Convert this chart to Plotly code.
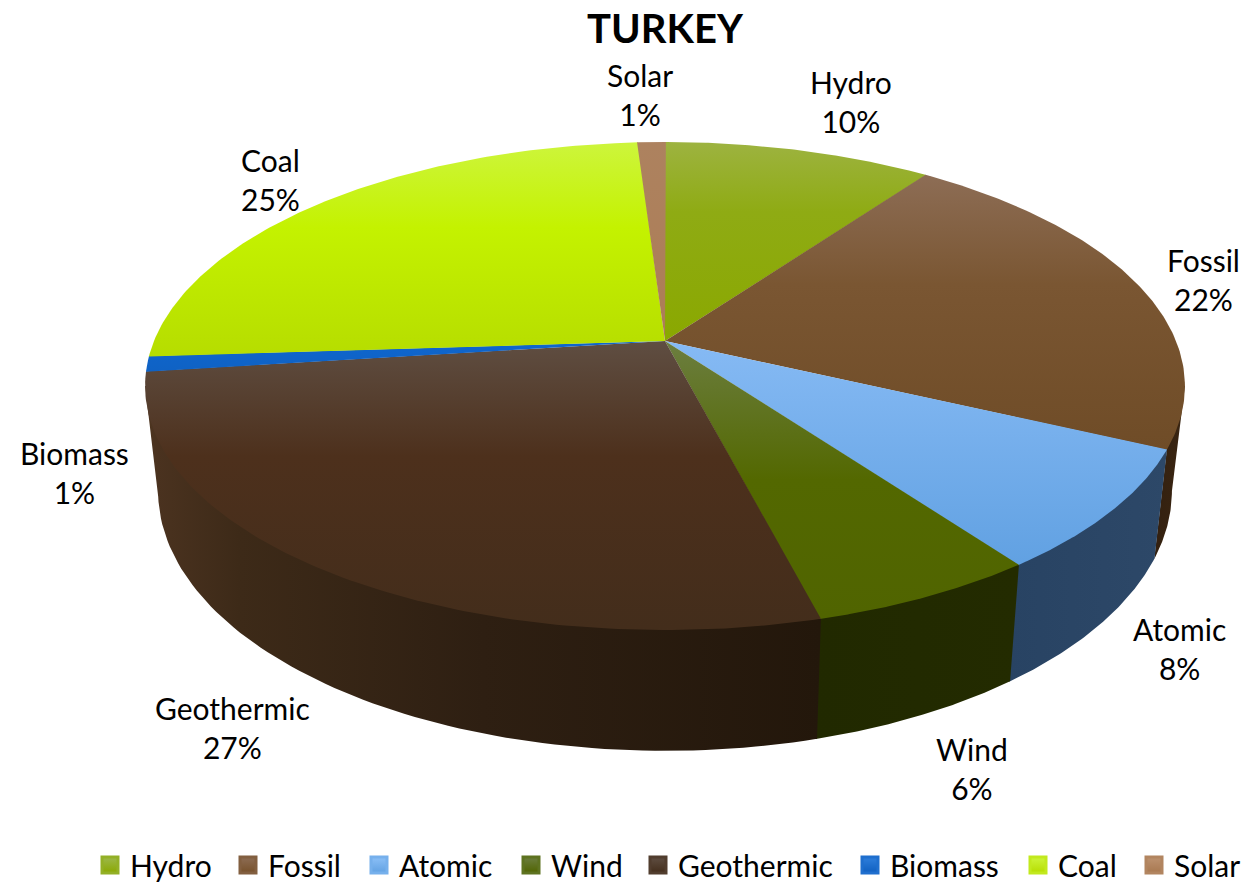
import numpy as np
import plotly.graph_objects as go

# ---- data ----
categories = ["Hydro", "Fossil", "Atomic", "Wind", "Geothermic", "Biomass", "Coal", "Solar"]
shares = [10, 22, 8, 6, 27, 1, 25, 1]

# ---- styles ----
top_gradients = {
    "Hydro": [[0, "#9db340"], [0.35, "#8fab14"], [1, "#8aa800"]],
    "Fossil": [[0, "#8d6d55"], [0.4, "#7a5632"], [1, "#6f4c27"]],
    "Atomic": [[0, "#86baf4"], [1, "#61a1e2"]],
    "Wind": [[0, "#6c7e40"], [0.5, "#536800"], [1, "#506400"]],
    "Geothermic": [[0, "#5f4e42"], [0.4, "#4d301c"], [1, "#432d1b"]],
    "Biomass": [[0, "#0f66ce"], [1, "#0f62c4"]],
    "Coal": [[0, "#cdf53c"], [0.4, "#c4f200"], [1, "#b6dd00"]],
    "Solar": [[0, "#ad825f"], [1, "#ad7d56"]],
}
side_gradients = {
    "Fossil": [[0, "#33200f"], [1, "#3a2512"]],
    "Atomic": [[0, "#284363"], [1, "#2d4868"]],
    "Wind": [[0, "#212900"], [1, "#232b00"]],
    "Geothermic": [[0, "#4e3621"], [0.02, "#4a321f"], [0.14, "#3d2a18"], [0.5, "#2e1f12"], [1, "#23170b"]],
}
swatch_colors = {
    "Hydro": ("#9db84c", "#8aa800"), "Fossil": ("#8d6d55", "#76502a"),
    "Atomic": ("#8cc0f7", "#61a1e2"), "Wind": ("#6c7e40", "#506400"),
    "Geothermic": ("#5f4e42", "#432d1b"), "Biomass": ("#2f7fdc", "#0f5fc0"),
    "Coal": ("#cdf53c", "#b6dd00"), "Solar": ("#bd9270", "#a87850"),
}
swatch_border = {
    "Hydro": "#93b026", "Fossil": "#825f40", "Atomic": "#76b0ec", "Wind": "#5e7320",
    "Geothermic": "#513d2e", "Biomass": "#1f6fce", "Coal": "#c2e91e", "Solar": "#b28560",
}
label_pos = {
    "Hydro": (851, 101), "Fossil": (1203, 279), "Atomic": (1179, 648), "Wind": (972, 768),
    "Geothermic": (232, 727), "Biomass": (74, 472), "Coal": (270, 179), "Solar": (640, 94),
}
legend_swatch_left = {
    "Hydro": 102, "Fossil": 240, "Atomic": 371, "Wind": 523,
    "Geothermic": 650, "Biomass": 862, "Coal": 1030, "Solar": 1146,
}
FONT = "Lato, 'Open Sans', sans-serif"
OVERLAP = 0.002

# ---- perspective disc model ----
CX, CY = 665.0, 341.0
A, B, K = 511.0, 235.7, 0.1845
SX, SY, LOW_CY = 0.975, 1.065, 443.0


def flip(scale):
    return [[1 - p, c] for p, c in reversed(scale)]


def top_disc(theta, r=1.0):
    u, v = r * np.sin(theta), r * np.cos(theta)
    w = 1 + K * v
    return CX + A * u / w, CY - B * v / w


def low_disc(theta):
    x, y = top_disc(theta)
    return CX + SX * (x - CX), LOW_CY + SY * (y - CY)


fractions = np.cumsum([0] + shares) / sum(shares)
front_start = np.pi / 2 + np.arcsin(K)
front_end = 2 * np.pi - front_start

fig = go.Figure()

# sides
for i, name in enumerate(categories):
    t0, t1 = 2 * np.pi * fractions[i], 2 * np.pi * fractions[i + 1]
    a, b = max(t0, front_start), min(t1, front_end)
    if a >= b:
        continue
    if a > front_start:
        a -= OVERLAP
    th = np.linspace(a, b, 80)
    x1, y1 = top_disc(th, 0.985)
    xa, ya = top_disc(np.array([a]))
    xb, yb = top_disc(np.array([b]))
    x2, y2 = low_disc(th[::-1])
    fig.add_trace(go.Scatter(
        x=np.r_[xa, x1, xb, x2, xa], y=np.r_[ya, y1, yb, y2, ya], mode="lines",
        line=dict(width=0), fill="toself", showlegend=False, hoverinfo="skip",
        fillgradient=dict(type="horizontal", colorscale=side_gradients[name]),
    ))

# top faces
for i, name in enumerate(categories):
    start = 2 * np.pi * fractions[i] - (OVERLAP if i else 0)
    end = 2 * np.pi * fractions[i + 1] + (OVERLAP if i == len(categories) - 1 else 0)
    th = np.linspace(start, end, 120)
    x, y = top_disc(th)
    fig.add_trace(go.Scatter(
        x=np.r_[CX, x, CX], y=np.r_[CY, y, CY], mode="lines",
        line=dict(width=0), fill="toself", showlegend=False, name=name,
        fillgradient=dict(type="vertical", colorscale=flip(top_gradients[name])),
    ))

# legend entries, one small legend per category
legends = {}
for i, name in enumerate(categories):
    c0, c1 = swatch_colors[name]
    key = "legend" if i == 0 else f"legend{i + 1}"
    fig.add_trace(go.Scatter(
        x=[None], y=[None], mode="markers", name=name, legend=key,
        marker=dict(symbol="square", size=16, color=c0,
                    line=dict(width=3, color=swatch_border[name]),
                    gradient=dict(type="vertical", color=c1)),
    ))
    legends[key] = dict(
        orientation="h", x=(legend_swatch_left[name] - 12) / 1245, xanchor="left",
        y=-8 / 883, yanchor="bottom",
        font=dict(family=FONT, size=30, color="#000000"), itemsizing="trace",
        bgcolor="rgba(0,0,0,0)",
    )

# labels
annotations = [
    dict(x=label_pos[n][0], y=label_pos[n][1], text=f"{n}<br>{s}%", showarrow=False,
         font=dict(family=FONT, size=30, color="#000000"), xanchor="center", yanchor="middle",
         align="center")
    for n, s in zip(categories, shares)
]

fig.update_layout(
    width=1245, height=883, autosize=False,
    margin=dict(l=0, r=0, t=0, b=0, autoexpand=False),
    paper_bgcolor="#ffffff", plot_bgcolor="#ffffff",
    title=dict(text="<b>TURKEY</b>", x=665 / 1245, xanchor="center", y=1 - 29 / 883, yanchor="middle",
               font=dict(family=FONT, size=40, color="#000000")),
    xaxis=dict(range=[0, 1245], visible=False, fixedrange=True),
    yaxis=dict(range=[883, 0], visible=False, fixedrange=True),
    annotations=annotations,
    showlegend=True,
    **legends,
)

fig.write_html("out.html", post_script="document.body.style.margin='0';",
               config={"displayModeBar": False})
